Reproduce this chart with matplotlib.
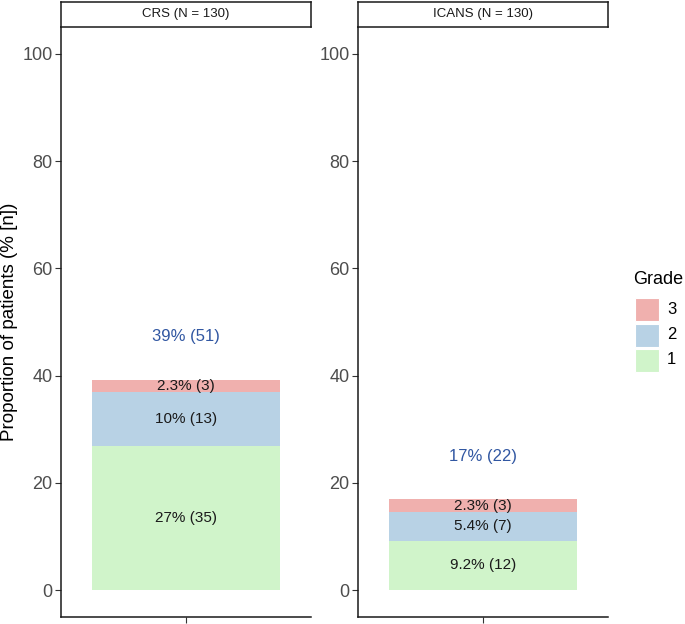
import matplotlib.pyplot as plt
from matplotlib.patches import Rectangle

plt.rcParams['font.family'] = ['Liberation Sans', 'DejaVu Sans']

# data
panels = ['CRS (N = 130)', 'ICANS (N = 130)']
n_total = [130, 130]
grades = ['1', '2', '3']
counts = [[35, 13, 3],   # CRS
          [12, 7, 3]]    # ICANS
grade_colors = {'1': '#D0F4CA', '2': '#B8D2E5', '3': '#F0B0AE'}
total_color = '#3157A2'

W, H = 685, 624
fig = plt.figure(figsize=(W / 100, H / 100), dpi=100)


def px_axes(x0, y0, x1, y1):
    # y measured from top in pixels
    return fig.add_axes([x0 / W, (H - y1) / H, (x1 - x0) / W, (y1 - y0) / H])


panel_x = [(61, 311), (358, 608)]
for i, (name, cnt) in enumerate(zip(panels, counts)):
    x0, x1 = panel_x[i]
    ax = px_axes(x0, 27, x1, 617)
    pct = [100 * c / n_total[i] for c in cnt]
    bottom = 0
    for g, p, c in zip(grades, pct, cnt):
        ax.bar(1, p, width=0.9, bottom=bottom, color=grade_colors[g],
               edgecolor='none')
        ax.text(1, bottom + p / 2, f"{p:.2g}% ({c})", ha='center',
                va='center', fontsize=11, color='#1a1a1a')
        bottom += p
    ax.text(1, bottom + 8, f"{bottom:.2g}% ({sum(cnt)})", ha='center',
            va='center', fontsize=12, color=total_color)

    ax.set_xlim(0.4, 1.6)
    ax.set_ylim(-5, 105)
    ax.set_xticks([1])
    ax.set_xticklabels([''])
    ax.set_yticks([0, 20, 40, 60, 80, 100])
    ax.tick_params(axis='both', length=4, width=0.8, color='#333333',
                   labelsize=13, labelcolor='#4D4D4D', pad=2)
    for s in ['top', 'right']:
        ax.spines[s].set_visible(False)
    for s in ['left', 'bottom']:
        ax.spines[s].set_linewidth(1.1)
        ax.spines[s].set_color('#1a1a1a')
    if i == 0:
        ax.set_ylabel('Proportion of patients (% [n])', fontsize=13.5,
                      color='black', labelpad=3)

    # strip
    sax = px_axes(x0, 2, x1, 27)
    sax.set_xticks([])
    sax.set_yticks([])
    for s in sax.spines.values():
        s.set_linewidth(1.1)
        s.set_color('#1a1a1a')
    sax.text(0.5, 0.5, name, ha='center', va='center', fontsize=9.5,
             color='#1a1a1a', transform=sax.transAxes)

# legend
fig.text(633 / W, 1 - 280 / H, 'Grade', fontsize=13, ha='left', va='center')
for k, g in enumerate(['3', '2', '1']):
    y_top = 297 + k * 25.5
    fig.patches.append(Rectangle((635 / W, 1 - (y_top + 24) / H), 24 / W, 23 / H,
                                 transform=fig.transFigure,
                                 facecolor=grade_colors[g], edgecolor='white',
                                 linewidth=0.8))
    fig.text(667 / W, 1 - (y_top + 12) / H, g, fontsize=12, ha='left',
             va='center')

fig.savefig('out.png', dpi=100)
